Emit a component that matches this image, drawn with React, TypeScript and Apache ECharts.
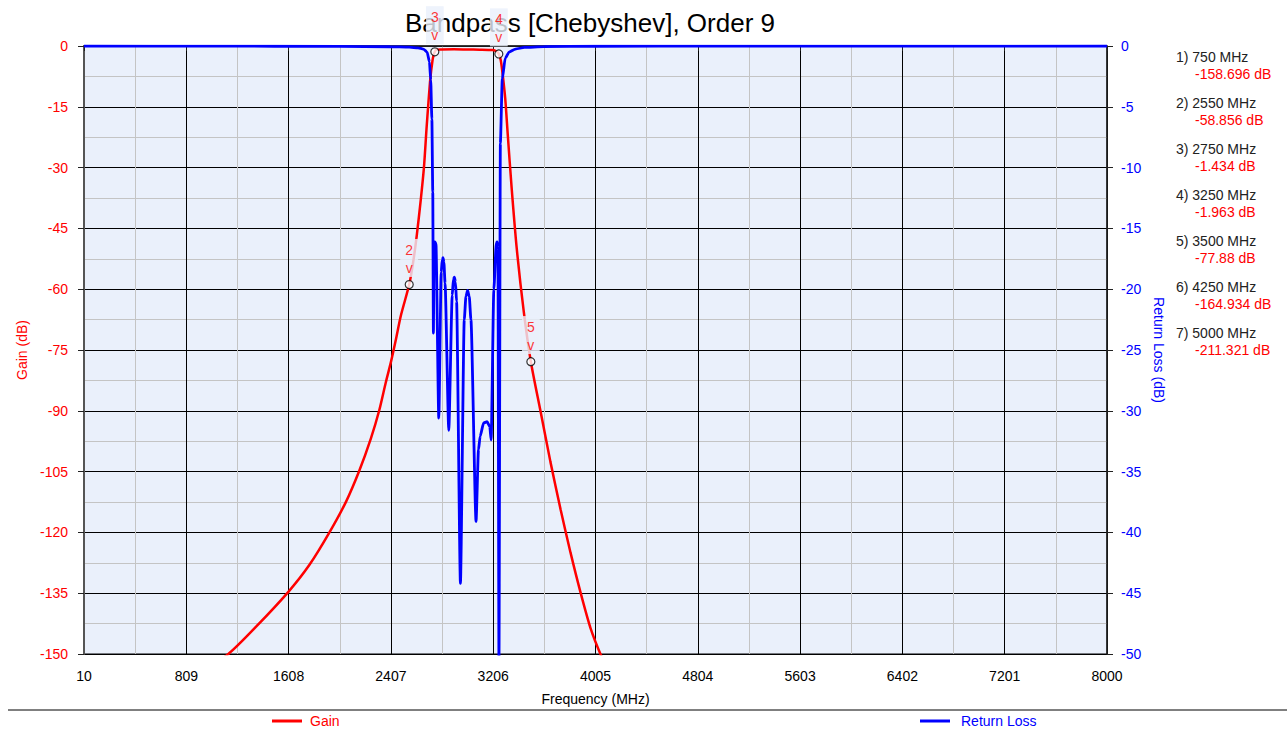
import React, { useEffect, useRef } from 'react';
import * as echarts from 'echarts';

const TITLE = 'Bandpass [Chebyshev], Order 9';
const X_MIN = 10;
const X_MAX = 8000;
const X_STEP = 799;
const GAIN_MIN = -150;
const GAIN_MAX = 0;
const GAIN_STEP = 15;
const RL_MIN = -50;
const RL_MAX = 0;
const RL_STEP = 5;

// Gain (dB) trace
const gainFreq = [750, 1137, 1356, 1608, 1771, 1927, 2057, 2160, 2251, 2315, 2367, 2407, 2446, 2485, 2550, 2580, 2610, 2640, 2665, 2685, 2700, 2715, 2730, 2740, 2750, 2760, 2800, 2900, 3000, 3100, 3200, 3225, 3240, 3250, 3265, 3280, 3300, 3320, 3350, 3390, 3445, 3500, 3575, 3653, 3732, 3810, 3888, 3966, 4050, 4250, 5000];
const gainDb = [-158.696, -150, -143.2, -134.6, -128, -120, -112.4, -104.8, -96.8, -90, -83, -78, -72.4, -66.5, -58.856, -53.5, -46.5, -38, -30, -20.5, -14, -8, -4, -2.3, -1.434, -0.95, -0.85, -0.8, -0.85, -0.9, -1.0, -1.2, -1.5, -1.963, -3.5, -7, -13, -22, -35, -50, -65.6, -77.88, -90, -102.6, -114.3, -125, -134.8, -143.6, -150.5, -164.934, -211.321];

// Return loss (dB) trace
const rlFreq = [10, 1000, 2000, 2400, 2550, 2620, 2660, 2690, 2708, 2718, 2727, 2734, 2739, 2744, 2751, 2759, 2781, 2800, 2808, 2814, 2821, 2830, 2859, 2886, 2895, 2903, 2911, 2920, 2950, 2980, 2993, 3006, 3019, 3032, 3072, 3091, 3104, 3131, 3158, 3179, 3190, 3211, 3230, 3237, 3243, 3251, 3262, 3277, 3300, 3330, 3380, 3450, 3600, 4000, 5000, 8000];
const rlDb = [0, -0.01, -0.03, -0.06, -0.1, -0.15, -0.25, -0.5, -1.3, -2.8, -6, -12, -23.6, -16.3, -16.1, -16.3, -30.6, -18.6, -17.6, -17.4, -17.8, -19.5, -31.6, -20.5, -19.2, -19, -19.4, -21, -44.2, -22.5, -20.6, -20.1, -20.6, -22.5, -39.1, -33.2, -32.1, -31, -30.9, -31.3, -32.4, -20, -16.2, -16.1, -16.6, -51, -8, -2.7, -1.0, -0.5, -0.25, -0.12, -0.05, -0.02, -0.01, 0];

// Markers
const markerId = [1, 2, 3, 4, 5, 6, 7];
const markerFreq = [750, 2550, 2750, 3250, 3500, 4250, 5000];
const markerGain = [-158.696, -58.856, -1.434, -1.963, -77.88, -164.934, -211.321];

const FONT = 'Arial, "Liberation Sans", sans-serif';
const RED = '#ff0000';
const BLUE = '#0000ff';
const PLOT_BG = '#eaf0fb';

export default function App() {
  const ref = useRef<HTMLDivElement>(null);

  useEffect(() => {
    if (!ref.current) return;
    const chart = echarts.init(ref.current, null, { renderer: 'svg' });

    const gainData = gainFreq.map((f, i) => [f - X_MIN, gainDb[i]]);
    const rlData = rlFreq.map((f, i) => [f - X_MIN, rlDb[i]]);
    const shown = markerFreq
      .map((f, i) => ({ id: markerId[i], f, g: markerGain[i] }))
      .filter((m) => m.g >= GAIN_MIN && m.g <= GAIN_MAX);

    const panel: any[] = [];
    markerFreq.forEach((f, i) => {
      const y0 = 57 + i * 46;
      panel.push({
        type: 'text',
        x: 1176,
        y: y0,
        style: { text: `${markerId[i]}) ${f} MHz`, font: `14px ${FONT}`, fill: '#222', verticalAlign: 'middle' },
      });
      panel.push({
        type: 'text',
        x: 1195,
        y: y0 + 16.5,
        style: { text: `${markerGain[i]} dB`, font: `14px ${FONT}`, fill: RED, verticalAlign: 'middle' },
      });
    });

    chart.setOption({
      animation: false,
      backgroundColor: '#ffffff',
      grid: {
        left: 84,
        right: 180,
        top: 46,
        bottom: 77,
        show: true,
        backgroundColor: PLOT_BG,
        borderColor: '#000',
        borderWidth: 1,
      },
      graphic: [
        {
          type: 'text',
          x: 590,
          y: 23,
          z: 1,
          style: { text: TITLE, font: `26px ${FONT}`, fill: '#000', align: 'center', verticalAlign: 'middle' },
        },
        {
          type: 'line',
          shape: { x1: 8, y1: 710, x2: 1287, y2: 710 },
          style: { stroke: '#000', lineWidth: 1 },
        },
        ...panel,
      ],
      legend: [
        {
          left: 272,
          top: 714,
          padding: 0,
          icon: 'rect',
          itemWidth: 30,
          itemHeight: 3,
          textStyle: { fontFamily: FONT, fontSize: 14, padding: [0, 0, 0, 3] },
          data: [{ name: 'Gain', textStyle: { color: RED } }],
        },
        {
          left: 920,
          top: 714,
          padding: 0,
          icon: 'rect',
          itemWidth: 30,
          itemHeight: 3,
          textStyle: { fontFamily: FONT, fontSize: 14, padding: [0, 0, 0, 6] },
          data: [{ name: 'Return Loss', textStyle: { color: BLUE } }],
        },
      ],
      xAxis: {
        type: 'value',
        min: 0,
        max: X_MAX - X_MIN,
        interval: X_STEP,
        name: 'Frequency (MHz)',
        nameLocation: 'middle',
        nameGap: 38,
        nameTextStyle: { fontFamily: FONT, fontSize: 14, color: '#000' },
        axisLine: { show: true, lineStyle: { color: '#222', width: 1.5 } },
        axisTick: { show: true, length: 5, lineStyle: { color: '#222' } },
        axisLabel: {
          margin: 15,
          fontFamily: FONT,
          fontSize: 14,
          color: '#000',
          formatter: (v: number) => String(v + X_MIN),
        },
        splitLine: { show: true, lineStyle: { color: '#000', width: 1 } },
        minorTick: { show: false, splitNumber: 2 },
        minorSplitLine: { show: true, lineStyle: { color: '#c4c4c4', width: 1 } },
      },
      yAxis: [
        {
          type: 'value',
          position: 'left',
          min: GAIN_MIN,
          max: GAIN_MAX,
          interval: GAIN_STEP,
          name: 'Gain (dB)',
          nameLocation: 'middle',
          nameGap: 50,
          nameTextStyle: { fontFamily: FONT, fontSize: 14, color: RED },
          axisLine: { show: true, lineStyle: { color: '#555', width: 2 } },
          axisTick: { show: true, length: 6, lineStyle: { color: '#222' } },
          axisLabel: { margin: 16, fontFamily: FONT, fontSize: 14, color: RED },
          splitLine: { show: true, lineStyle: { color: '#000', width: 1 } },
          minorTick: { show: false, splitNumber: 2 },
          minorSplitLine: { show: true, lineStyle: { color: '#c4c4c4', width: 1 } },
        },
        {
          type: 'value',
          position: 'right',
          min: RL_MIN,
          max: RL_MAX,
          interval: RL_STEP,
          name: 'Return Loss (dB)',
          nameLocation: 'middle',
          nameRotate: -90,
          nameGap: 42,
          nameTextStyle: { fontFamily: FONT, fontSize: 14, color: BLUE },
          axisLine: { show: true, lineStyle: { color: '#222', width: 1.5 } },
          axisTick: { show: true, length: 6, lineStyle: { color: '#222' } },
          axisLabel: { margin: 14, fontFamily: FONT, fontSize: 14, color: BLUE },
          splitLine: { show: false },
        },
      ],
      series: [
        {
          name: 'Gain',
          type: 'line',
          xAxisIndex: 0,
          yAxisIndex: 0,
          data: gainData,
          showSymbol: false,
          smooth: 0.25,
          clip: true,
          z: 2,
          itemStyle: { color: RED },
          lineStyle: { color: RED, width: 2.5 },
        },
        {
          name: 'Return Loss',
          type: 'line',
          xAxisIndex: 0,
          yAxisIndex: 1,
          data: rlData,
          showSymbol: false,
          smooth: 0.2,
          smoothMonotone: 'x',
          clip: true,
          z: 3,
          itemStyle: { color: BLUE },
          lineStyle: { color: BLUE, width: 2.8 },
        },
        {
          name: 'Markers',
          type: 'scatter',
          xAxisIndex: 0,
          yAxisIndex: 0,
          data: shown.map((m) => ({ name: String(m.id), value: [m.f - X_MIN, m.g] })),
          symbol: 'circle',
          symbolSize: 8,
          z: 10,
          silent: true,
          itemStyle: { color: '#ffffff', borderColor: '#000', borderWidth: 1.2 },
          label: {
            show: true,
            position: 'top',
            distance: 3,
            formatter: (p: any) => `${p.name}\nv`,
            color: RED,
            fontFamily: FONT,
            fontSize: 14,
            lineHeight: 18,
            align: 'center',
            backgroundColor: PLOT_BG,
            padding: [2, 5, 0, 5],
          },
        },
      ],
    });

    return () => chart.dispose();
  }, []);

  return (
    <div
      ref={ref}
      style={{ position: 'fixed', left: 0, top: 0, width: 1287, height: 731, background: '#fff' }}
    />
  );
}
